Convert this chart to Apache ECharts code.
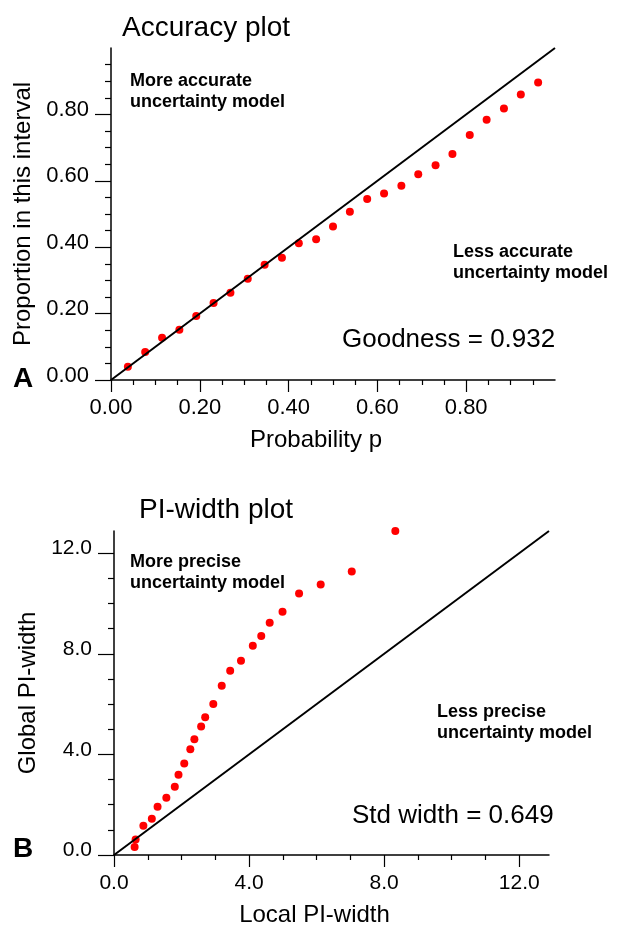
<!DOCTYPE html>
<html>
<head>
<meta charset="utf-8">
<script src="https://cdn.jsdelivr.net/npm/echarts@6/dist/echarts.min.js"></script>
<style>
  html, body { margin: 0; padding: 0; background: #fff; }
  #chart { width: 624px; height: 936px; }
</style>
</head>
<body>
<div id="chart"></div>
<script>
// Accuracy plot data
const accP = [0.038, 0.077, 0.115, 0.154, 0.192, 0.231, 0.269, 0.308, 0.346, 0.385, 0.423, 0.462, 0.500,
  0.538, 0.577, 0.615, 0.654, 0.692, 0.731, 0.769, 0.808, 0.846, 0.885, 0.923, 0.962];
const accProp = [0.040, 0.084, 0.127, 0.151, 0.193, 0.232, 0.263, 0.305, 0.347, 0.368, 0.412, 0.424, 0.462,
  0.507, 0.545, 0.562, 0.585, 0.620, 0.647, 0.681, 0.738, 0.784, 0.818, 0.860, 0.896];
const accTicks = [0, 0.2, 0.4, 0.6, 0.8];
const accMax = 1.0;

// PI-width plot data
const localW = [0.61, 0.64, 0.87, 1.12, 1.29, 1.55, 1.80, 1.91, 2.08, 2.26, 2.38, 2.58, 2.70,
  2.94, 3.19, 3.44, 3.76, 4.11, 4.36, 4.61, 4.99, 5.48, 6.12, 7.04, 8.33];
const globalW = [0.32, 0.62, 1.16, 1.44, 1.92, 2.28, 2.71, 3.19, 3.64, 4.20, 4.60, 5.11, 5.48,
  6.00, 6.73, 7.32, 7.72, 8.32, 8.71, 9.23, 9.67, 10.40, 10.75, 11.27, 12.88];
const piTicks = [0, 4, 8, 12];
const piMax = 12.88;

const FONT = "'Liberation Sans', Arial, Helvetica, sans-serif";
const black = '#000';

function axisCommon(ticks, fmt, isY, labelSize) {
  const label = {
    customValues: ticks,
    formatter: v => v.toFixed(fmt),
    color: black,
    fontFamily: FONT,
    fontSize: labelSize,
    margin: isY ? 22 : (fmt === 2 ? 17 : 18)
  };
  if (isY) {
    // labels sit a little above their tick, as in the original
    label.verticalAlign = 'bottom';
    label.lineHeight = 9;
  }
  return {
    type: 'value',
    min: 0,
    splitLine: { show: false },
    axisLine: { show: true, onZero: false, lineStyle: { color: black, width: 1.5 } },
    axisTick: { show: true, customValues: ticks, length: isY ? 16 : 12, lineStyle: { color: black, width: 1.2 } },
    minorTick: { show: true, splitNumber: 4, length: isY ? 6 : 5, lineStyle: { color: black, width: 1.2 } },
    axisLabel: label,
    nameLocation: 'middle',
    nameTextStyle: { color: black, fontFamily: FONT, fontSize: 24 }
  };
}

const pairs = (xs, ys) => xs.map((x, i) => [x, ys[i]]);

const chart = echarts.init(document.getElementById('chart'), null, { renderer: 'canvas' });

function txt(x, y, text, font, extra) {
  return {
    type: 'text', x: x, y: y,
    style: Object.assign({ text: text, font: font, fill: black, textVerticalAlign: 'middle' }, extra || {})
  };
}

const option = {
  backgroundColor: '#fff',
  animation: false,
  grid: [
    { left: 111, top: 48, width: 444, height: 332 },
    { left: 114, top: 531, width: 435, height: 324 }
  ],
  xAxis: [
    Object.assign(axisCommon(accTicks, 2, false, 22), {
      gridIndex: 0, max: accMax, interval: 0.2, name: 'Probability p', nameGap: 48,
      nameTextStyle: { color: black, fontFamily: FONT, fontSize: 24, padding: [0, 34, 0, 0] }
    }),
    Object.assign(axisCommon(piTicks, 1, false, 21), {
      gridIndex: 1, max: piMax, interval: 4, name: 'Local PI-width', nameGap: 48,
      nameTextStyle: { color: black, fontFamily: FONT, fontSize: 24, padding: [0, 34, 0, 0] }
    })
  ],
  yAxis: [
    Object.assign(axisCommon(accTicks, 2, true, 22), {
      gridIndex: 0, max: accMax, interval: 0.2, name: 'Proportion in this interval', nameGap: 75
    }),
    Object.assign(axisCommon(piTicks, 1, true, 21), {
      gridIndex: 1, max: piMax, interval: 4, name: 'Global PI-width', nameGap: 73
    })
  ],
  series: [
    {
      type: 'line', xAxisIndex: 0, yAxisIndex: 0, symbol: 'none', silent: true,
      lineStyle: { color: black, width: 2 },
      data: [[0, 0], [accMax, accMax]]
    },
    {
      type: 'scatter', xAxisIndex: 0, yAxisIndex: 0, symbolSize: 8,
      itemStyle: { color: '#ff0000', opacity: 1 },
      data: pairs(accP, accProp)
    },
    {
      type: 'line', xAxisIndex: 1, yAxisIndex: 1, symbol: 'none', silent: true,
      lineStyle: { color: black, width: 2 },
      data: [[0, 0], [piMax, piMax]]
    },
    {
      type: 'scatter', xAxisIndex: 1, yAxisIndex: 1, symbolSize: 8,
      itemStyle: { color: '#ff0000', opacity: 1 },
      data: pairs(localW, globalW)
    }
  ],
  graphic: [
    txt(122, 28, 'Accuracy plot', '28px ' + FONT),
    txt(130, 92, 'More accurate\nuncertainty model', 'bold 18px ' + FONT, { lineHeight: 21 }),
    txt(453, 263, 'Less accurate\nuncertainty model', 'bold 18px ' + FONT, { lineHeight: 21 }),
    txt(342, 340, 'Goodness = 0.932', '26px ' + FONT),
    txt(23, 379, 'A', 'bold 28px ' + FONT, { textAlign: 'center' }),
    txt(139, 510, 'PI-width plot', '28px ' + FONT),
    txt(130, 573, 'More precise\nuncertainty model', 'bold 18px ' + FONT, { lineHeight: 21 }),
    txt(437, 723, 'Less precise\nuncertainty model', 'bold 18px ' + FONT, { lineHeight: 21 }),
    txt(352, 816, 'Std width = 0.649', '26px ' + FONT),
    txt(23, 849, 'B', 'bold 28px ' + FONT, { textAlign: 'center' })
  ]
};

chart.setOption(option);
</script>
</body>
</html>
